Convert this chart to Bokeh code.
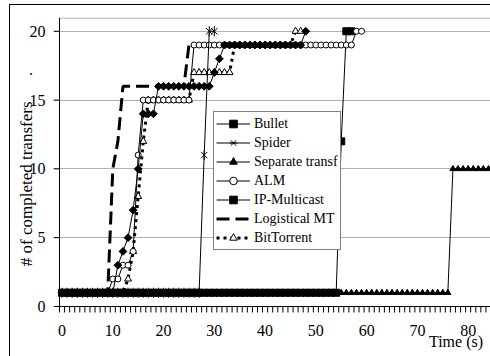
import numpy as np
from bokeh.plotting import figure
from bokeh.models import Range1d, FixedTicker, Legend, LegendItem
from bokeh.embed import file_html
from bokeh.resources import INLINE

# category axis: seconds
seconds = list(range(0, 85))
x_label_ticks = [0, 10, 20, 30, 40, 50, 60, 70, 80]
y_ticks = [0, 5, 10, 15, 20]

bullet = [1, 1, 1, 1, 1, 1, 1, 1, 1, 1, 1,
          3, 4, 5, 7, 10, 14, 14, 14,
          16, 16, 16, 16, 16, 16, 16, 16, 16, 16, 16,
          17, 18,
          19, 19, 19, 19, 19, 19, 19, 19, 19, 19, 19, 19, 19, 19, 19, 19,
          20]
spider = [1, 1, 1, 1, 1, 1, 1, 1, 1, 1, 1, 1, 1, 1, 1, 1, 1, 1, 1, 1,
          1, 1, 1, 1, 1, 1, 1, 1, 11, 20, 20]
separate = [1, 1, 1, 1, 1, 1, 1, 1, 1, 1, 1, 1, 1, 1, 1, 1, 1, 1, 1, 1,
            1, 1, 1, 1, 1, 1, 1, 1, 1, 1, 1, 1, 1, 1, 1, 1, 1, 1, 1, 1,
            1, 1, 1, 1, 1, 1, 1, 1, 1, 1, 1, 1, 1, 1, 1, 1, 1, 1, 1, 1,
            1, 1, 1, 1, 1, 1, 1, 1, 1, 1, 1, 1, 1, 1, 1, 1, 1,
            10, 10, 10, 10, 10, 10, 10, 10]
alm = [1, 1, 1, 1, 1, 1, 1, 1, 1, 1,
       2, 2, 3, 3, 4, 11,
       15, 15, 15, 15, 15, 15, 15, 15, 15, 15,
       19, 19, 19, 19, 19, 19, 19, 19, 19, 19, 19, 19, 19, 19, 19, 19,
       19, 19, 19, 19, 19, 19, 19, 19, 19, 19, 19, 19, 19, 19, 19, 19,
       20, 20]
ip_multicast = [1, 1, 1, 1, 1, 1, 1, 1, 1, 1, 1, 1, 1, 1, 1, 1, 1, 1, 1, 1,
                1, 1, 1, 1, 1, 1, 1, 1, 1, 1, 1, 1, 1, 1, 1, 1, 1, 1, 1, 1,
                1, 1, 1, 1, 1, 1, 1, 1, 1, 1, 1, 1, 1, 1, 1,
                12, 20, 20]
logistical = [1, 1, 1, 1, 1, 1, 1, 1, 1, 1,
              10, 12,
              16, 16, 16, 16, 16, 16, 16, 16, 16, 16, 16, 16, 16,
              19, 19, 19, 19, 19, 19, 19, 19, 19, 19, 19, 19, 19, 19, 19, 19,
              19, 19, 19, 19, 19]
bittorrent = [1, 1, 1, 1, 1, 1, 1, 1, 1, 1, 1, 1, 1,
              2, 4, 8, 12,
              15, 15, 15, 15, 15, 15, 15, 15, 15,
              17, 17, 17, 17, 17, 17, 17, 17,
              19, 19, 19, 19, 19, 19, 19, 19, 19, 19, 19, 19,
              20, 20]

FONT = "Liberation Serif"
NB = "\u00a0"

# geometry of the plot area (pixels) -> ranges
PX_X = 431 / 84.9          # pixels per second
PX_Y = 289 / 21.0          # pixels per transfer
TICK = 6                   # tick length in pixels
BELOW = 14                 # room kept inside the frame under the value 0
X0, X1 = -0.5, 84.4        # visible category span
Y0, Y1 = 0, 21
xr_start = X0 - TICK / PX_X
yr_start = Y0 - BELOW / PX_Y
y_tick_end = Y0 - TICK / PX_Y

p = figure(width=490, height=356, output_backend="svg", toolbar_location=None,
           x_range=Range1d(xr_start, X1), y_range=Range1d(yr_start, Y1),
           min_border_left=53, min_border_right=0, min_border_top=17,
           min_border_bottom=36)
p.background_fill_color = "white"
p.border_fill_color = "white"
p.border_fill_alpha = 0
p.styles = {"background": "linear-gradient(#000, #000) 9px 4px / 1px 100% no-repeat, "
                          "linear-gradient(#000, #000) 9px 4px / 100% 1px no-repeat, #fff"}
p.outline_line_color = None

p.xgrid.visible = False
p.ygrid.ticker = FixedTicker(ticks=[5, 10, 15, 20])
p.ygrid.grid_line_color = "#b0b0b0"
p.ygrid.grid_line_width = 1

# axes: labels only; lines and ticks are drawn below inside the plot area
p.xaxis.ticker = FixedTicker(ticks=x_label_ticks, minor_ticks=[])
p.xaxis.major_tick_line_color = None
p.xaxis.minor_tick_line_color = None
p.xaxis.major_tick_out = 0
p.xaxis.major_tick_in = 0
p.xaxis.major_label_standoff = 4
p.xaxis.axis_line_color = None
p.xaxis.axis_label = NB * 92 + "Time (s)"
p.xaxis.axis_label_standoff = -6

p.yaxis.ticker = FixedTicker(ticks=y_ticks, minor_ticks=[])
p.yaxis.major_tick_out = 0
p.yaxis.major_tick_in = 0
p.yaxis.major_tick_line_color = None
p.yaxis.minor_tick_line_color = None
p.yaxis.major_label_standoff = 8
p.yaxis.axis_line_color = None
p.yaxis.axis_label = "# of completed transfers" + NB * 6 + "."
p.yaxis.axis_label_standoff = -9

p.axis.major_label_text_font = FONT
p.axis.major_label_text_font_size = "16px"
p.axis.major_label_text_color = "black"
p.axis.axis_label_text_font = FONT
p.axis.axis_label_text_font_style = "normal"
p.axis.axis_label_text_color = "black"
p.xaxis.axis_label_text_font_size = "16px"
p.yaxis.axis_label_text_font_size = "17px"

# plot-area top border (grey) and axis lines
p.segment(x0=[X0], y0=[20.96], x1=[X1], y1=[20.96], line_color="#a0a0a0", line_width=1)
p.segment(x0=[X0, X0], y0=[Y0, Y0], x1=[X1, X0], y1=[Y0, Y1],
          line_color="black", line_width=1)
# tick marks: one per category boundary on x, one per labelled value on y
xt = [k - 0.5 for k in range(len(seconds) + 1)]
p.segment(x0=xt, y0=[Y0] * len(xt), x1=xt, y1=[y_tick_end] * len(xt),
          line_color="black", line_width=1)
p.segment(x0=[xr_start] * len(y_ticks), y0=y_ticks, x1=[X0] * len(y_ticks), y1=y_ticks,
          line_color="black", line_width=1)


def xs(vals):
    return seconds[:len(vals)]

# draw order: last legend entry first, so Bullet ends on top
r_bt_l = p.line(xs(bittorrent), bittorrent, line_color="black", line_width=3, line_dash="3 4")
r_bt_m = p.scatter(xs(bittorrent), bittorrent, marker="triangle", size=7,
                   fill_color="white", line_color="black", line_width=1)
r_lm_l = p.line(xs(logistical), logistical, line_color="black", line_width=3, line_dash="13 6")
r_ip_l = p.line(xs(ip_multicast), ip_multicast, line_color="black", line_width=1)
r_ip_m = p.scatter(xs(ip_multicast), ip_multicast, marker="square", size=7,
                   fill_color="black", line_color="black")
r_alm_l = p.line(xs(alm), alm, line_color="black", line_width=1)
r_alm_m = p.scatter(xs(alm), alm, marker="circle", size=6,
                    fill_color="white", line_color="black", line_width=1)
r_st_l = p.line(xs(separate), separate, line_color="black", line_width=1)
r_st_m = p.scatter(xs(separate), separate, marker="triangle", size=6,
                   fill_color="black", line_color="black")
r_sp_l = p.line(xs(spider), spider, line_color="black", line_width=1)
r_sp_m = p.scatter(xs(spider), spider, marker="x", size=9,
                   line_color="black", line_width=1)
r_sp_m2 = p.scatter(xs(spider), spider, marker="dash", size=10, angle=np.pi / 2,
                    line_color="black", line_width=1)
r_bu_l = p.line(xs(bullet), bullet, line_color="black", line_width=1)
r_bu_m = p.scatter(xs(bullet), bullet, marker="square", size=5.5, angle=np.pi / 4,
                   fill_color="black", line_color="black")

legend = Legend(items=[
    LegendItem(label="Bullet", renderers=[r_bu_l, r_bu_m]),
    LegendItem(label="Spider", renderers=[r_sp_l, r_sp_m, r_sp_m2]),
    LegendItem(label="Separate transf", renderers=[r_st_l, r_st_m]),
    LegendItem(label="ALM", renderers=[r_alm_l, r_alm_m]),
    LegendItem(label="IP-Multicast", renderers=[r_ip_l, r_ip_m]),
    LegendItem(label="Logistical MT", renderers=[r_lm_l]),
    LegendItem(label="BitTorrent", renderers=[r_bt_l, r_bt_m]),
], location=(160, 70), padding=2, spacing=0, label_height=19, glyph_height=19,
    glyph_width=34, label_standoff=4, margin=0,
    border_line_color="black", border_line_width=1,
    background_fill_color="white", background_fill_alpha=1,
    label_text_font=FONT, label_text_font_size="14px", label_text_color="black")
p.add_layout(legend)

open("out.html", "w").write(file_html(p, INLINE))
